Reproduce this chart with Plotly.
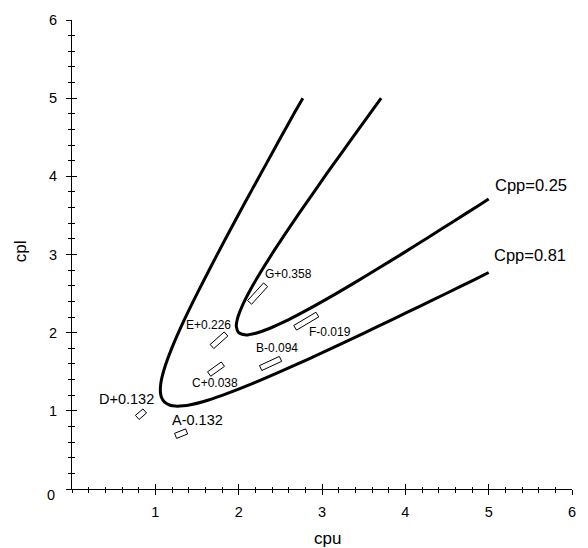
import math
import plotly.graph_objects as go

# ---------------- data ----------------
cpp081_cpu = [2.77, 2.676, 2.504, 2.334, 2.164, 1.995, 1.828, 1.663, 1.501, 1.344, 1.198, 1.120, 1.078, 1.064,
              1.061, 1.072, 1.111, 1.178, 1.239, 1.336, 1.422, 1.580, 1.802, 2.156, 2.499, 2.837, 3.172,
              3.505, 3.836, 4.166, 4.496, 4.825, 5.00]
cpp081_cpl = [5.00, 4.825, 4.496, 4.166, 3.836, 3.505, 3.172, 2.837, 2.499, 2.156, 1.802, 1.580, 1.422, 1.336,
              1.239, 1.178, 1.111, 1.072, 1.061, 1.064, 1.078, 1.120, 1.198, 1.344, 1.501, 1.663, 1.828,
              1.995, 2.164, 2.334, 2.504, 2.676, 2.77]

cpp025_cpu = [3.71, 3.625, 3.423, 3.221, 3.021, 2.823, 2.627, 2.435, 2.25, 2.144, 2.047, 1.993, 1.975, 1.972,
              2.00, 2.078, 2.125, 2.207, 2.353, 2.556, 2.75, 3.065, 3.373, 3.677, 3.979, 4.279, 4.577,
              4.875, 5.00]
cpp025_cpl = [5.00, 4.875, 4.577, 4.279, 3.979, 3.677, 3.373, 3.065, 2.75, 2.556, 2.353, 2.207, 2.125, 2.078,
              2.00, 1.972, 1.975, 1.993, 2.047, 2.144, 2.25, 2.435, 2.627, 2.823, 3.021, 3.221, 3.423,
              3.625, 3.71]

curve_labels = ["Cpp=0.25", "Cpp=0.81"]
curve_label_cpu = [5.51, 5.49]
curve_label_cpl = [3.89, 2.99]

point_names = ["A-0.132", "B-0.094", "C+0.038", "D+0.132", "E+0.226", "F-0.019", "G+0.358"]
point_cpu = [1.309, 2.383, 1.728, 0.828, 1.764, 2.811, 2.227]
point_cpl = [0.708, 1.606, 1.534, 0.957, 1.903, 2.147, 2.500]
point_angle = [22, 25, 36, 41, 42, 31, 48]      # orientation of each region (deg, on screen)
point_length = [12, 22, 17, 10, 19, 26, 24]     # length of each region (px)

label_cpu = [1.507, 2.464, 1.713, 0.657, 1.643, 3.09, 2.60]
label_cpl = [0.885, 1.808, 1.357, 1.147, 2.095, 2.006, 2.75]

x_ticks = [1, 2, 3, 4, 5, 6]
y_ticks = [0, 1, 2, 3, 4, 5, 6]
y_ticktext = ["", "1", "2", "3", "4", "5", "6"]   # the "0" is drawn slightly lower, separately

# ---------------- layout geometry ----------------
W, H = 588, 548
ML, MR, MT, MB = 72, 14, 14, 59
XR = [0, 6]
YR = [0, 6]
PW, PH = W - ML - MR, H - MT - MB
px_x = PW / (XR[1] - XR[0])
px_y = PH / (YR[1] - YR[0])
RECT_W = 5.5

FONT = "Liberation Sans, Arial, sans-serif"

fig = go.Figure()

for cx, cy in [(cpp081_cpu, cpp081_cpl), (cpp025_cpu, cpp025_cpl)]:
    fig.add_trace(go.Scatter(x=cx, y=cy, mode="lines",
                             line=dict(color="black", width=3, shape="spline", smoothing=0.8),
                             hoverinfo="skip", showlegend=False))

for cx, cy, ang, ln in zip(point_cpu, point_cpl, point_angle, point_length):
    t = math.radians(ang)
    ux, uy = math.cos(t), math.sin(t)
    vx, vy = -uy, ux
    xs, ys = [], []
    for a, b in [(1, 1), (1, -1), (-1, -1), (-1, 1), (1, 1)]:
        dx = a * ux * ln / 2 + b * vx * RECT_W / 2
        dy = a * uy * ln / 2 + b * vy * RECT_W / 2
        xs.append(cx + dx / px_x)
        ys.append(cy + dy / px_y)
    fig.add_trace(go.Scatter(x=xs, y=ys, mode="lines", fill="toself", fillcolor="white",
                             line=dict(color="black", width=1), hoverinfo="skip", showlegend=False))

for name, lx, ly in zip(point_names, label_cpu, label_cpl):
    size = 14.5 if name[0] in "AD" else 12
    fig.add_annotation(x=lx, y=ly, text=name, showarrow=False, xanchor="center", yanchor="middle",
                       font=dict(family=FONT, size=size, color="black"))

for name, lx, ly in zip(curve_labels, curve_label_cpu, curve_label_cpl):
    fig.add_annotation(x=lx, y=ly, text=name, showarrow=False, xanchor="center", yanchor="middle",
                       font=dict(family=FONT, size=16.5, color="black"))


def minor(ticks):
    return dict(ticks=ticks, ticklen=2.5, tickcolor="black", tickwidth=1,
                tickmode="linear", tick0=0, dtick=0.2, showgrid=False)


axis_common = dict(showgrid=False, zeroline=False, showline=True, linecolor="black", linewidth=1.2,
                   ticks="outside", ticklen=5, tickcolor="black", tickwidth=1,
                   tickfont=dict(family=FONT, size=14.5, color="black"),
                   minor=minor("outside"))
overlay_common = dict(showgrid=False, zeroline=False, showline=False, ticks="inside", ticklen=5,
                      tickcolor="black", tickwidth=1, showticklabels=False, minor=minor("inside"))

fig.update_layout(
    width=W, height=H, margin=dict(l=ML, r=MR, t=MT, b=MB),
    paper_bgcolor="white", plot_bgcolor="white", showlegend=False,
    xaxis=dict(range=XR, tickmode="array", tickvals=x_ticks, ticktext=[str(v) for v in x_ticks],
               ticklabelstandoff=4, **axis_common),
    yaxis=dict(range=YR, tickmode="array", tickvals=y_ticks, ticktext=y_ticktext,
               ticklabelstandoff=6, **axis_common),
    xaxis2=dict(range=XR, overlaying="x", matches="x", side="bottom",
                tickmode="array", tickvals=x_ticks, **overlay_common),
    yaxis2=dict(range=YR, overlaying="y", matches="y", side="left",
                tickmode="array", tickvals=y_ticks, **overlay_common),
)
# dummy trace to activate secondary axes
fig.add_trace(go.Scatter(x=[None], y=[None], xaxis="x2", yaxis="y2", showlegend=False, hoverinfo="skip"))

# y "0" label, sitting a bit below the axis corner as in the reference
fig.add_annotation(xref="paper", yref="paper", x=(51 - ML) / PW, y=(H - MB - 495) / PH,
                   text=str(y_ticks[0]), showarrow=False, xanchor="center", yanchor="middle",
                   font=dict(family=FONT, size=14.5, color="black"))

fig.add_annotation(xref="paper", yref="paper", x=(329 - ML) / PW, y=(H - MB - 539) / PH,
                   text="cpu", showarrow=False, xanchor="center", yanchor="middle",
                   font=dict(family=FONT, size=17, color="black"))
fig.add_annotation(xref="paper", yref="paper", x=(20 - ML) / PW, y=(H - MB - 248) / PH,
                   text="cpl", showarrow=False, textangle=-90, xanchor="center", yanchor="middle",
                   font=dict(family=FONT, size=17, color="black"))

fig.write_html("out.html")
